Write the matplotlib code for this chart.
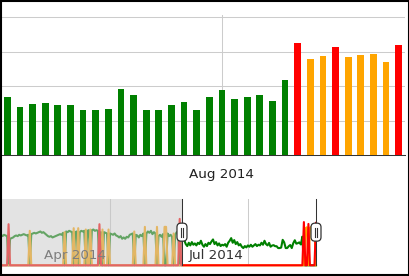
import matplotlib.pyplot as plt
import matplotlib.dates as mdates
from matplotlib.patches import Rectangle, FancyBboxPatch
from matplotlib.lines import Line2D
from matplotlib.transforms import IdentityTransform
import numpy as np
import pandas as pd

# daily values from 2014-01-19 to 2014-08-15
first_day = "2014-01-19"
values = [2.3, 2.2, 2.3, 2.25, 2.2, 3.1, 2.0, 2.05, 2.1, 2.2,
          2.25, 2.2, 2.3, 2.25, 2.3, 2.35, 2.3, 2.25, 2.3, 2.6,
          2.35, 2.4, 2.45, 2.4, 2.45, 2.5, 2.55, 2.45, 2.5, 2.4,
          2.3, 2.2, 2.15, 2.2, 2.1, 2.15, 2.2, 2.25, 2.3, 2.35,
          2.3, 2.45, 2.5, 2.55, 2.5, 2.6, 2.55, 2.5, 2.8, 2.5,
          2.55, 2.8, 2.5, 2.6, 2.55, 2.6, 2.7, 2.6, 2.65, 2.7,
          2.65, 2.7, 2.6, 2.65, 2.6, 3.1, 2.5, 2.7, 2.5, 2.45,
          2.4, 2.7, 2.4, 2.35, 2.3, 2.4, 2.25, 2.2, 2.1, 2.2,
          2.0, 2.1, 2.0, 2.15, 2.1, 2.3, 2.35, 2.4, 2.55, 2.3,
          2.25, 2.1, 2.3, 2.2, 2.4, 2.9, 2.4, 2.55, 2.45, 2.6,
          2.35, 2.5, 2.4, 2.9, 2.2, 2.3, 2.15, 2.35, 2.9, 2.9,
          2.4, 2.2, 2.3, 2.15, 2.4, 2.3, 2.5, 2.4, 3.5, 2.2,
          1.9, 1.9, 1.6, 1.45, 1.7, 1.5, 1.75, 1.55, 1.65, 1.5,
          1.7, 1.6, 1.85, 1.55, 1.4, 1.6, 1.45, 1.7, 1.6, 1.8,
          1.95, 1.6, 1.75, 1.5, 1.65, 1.45, 1.55, 1.5, 1.6, 1.4,
          1.7, 1.85, 2.05, 1.7, 1.9, 1.6, 1.75, 1.5, 1.6, 1.4,
          1.3, 1.45, 1.35, 1.5, 1.4, 1.55, 1.4, 1.5, 1.6, 1.45,
          1.55, 1.5, 1.7, 1.55, 1.85, 1.6, 1.5,
          # 2014-07-15 .. 2014-08-15 (bar chart)
          1.69, 1.40, 1.49, 1.52, 1.44, 1.44, 1.30, 1.30, 1.34, 1.92,
          1.73, 1.30, 1.30, 1.44, 1.53, 1.30, 1.67, 1.89, 1.63, 1.67,
          1.73, 1.57, 2.16, 3.26, 2.77, 2.87, 3.12, 2.83, 2.90, 2.93,
          2.71, 3.20]
orange_idx = [19, 42, 48, 51, 56, 59, 67, 71, 88, 95, 103, 108, 109, 114,
              201, 202, 204, 205, 206, 207]
red_idx = [5, 65, 118, 200, 203, 208]
n_zoom = 32
range_start = "2014-05-18 12:00"
range_end = "2014-08-15"
zoom_ticks = ["2014-08-01"]
filter_ticks = ["2014-04-01", "2014-07-01"]
col_ok, col_warn, col_crit = "#008000", "#ffa500", "#ff0000"

values = np.array(values)
days = pd.date_range(first_day, periods=len(values), freq="D")
xs = mdates.date2num(days)
status = np.full(len(values), "g")
status[orange_idx] = "o"
status[red_idx] = "r"
colors = {"g": col_ok, "o": col_warn, "r": col_crit}

W, H = 410, 276
fig = plt.figure(figsize=(W / 100, H / 100), dpi=100)

# main bar chart
ax = fig.add_axes([1 / W, 1 - 155 / H, 404 / W, 139.7 / H])
ax.bar(xs[-n_zoom:], values[-n_zoom:], width=0.53,
       color=[colors[s] for s in status[-n_zoom:]], zorder=3)
ax.set_xlim(xs[-n_zoom] - 0.5, xs[-1] + 0.5)
ax.set_ylim(0, 4.05)
ax.set_yticks([1, 2, 3, 4])
ax.set_yticklabels([])
ticks = pd.to_datetime(zoom_ticks)
ax.set_xticks(mdates.date2num(ticks))
ax.set_xticklabels([t.strftime("%b %Y") for t in ticks], fontsize=9.7, color="#222222")
ax.tick_params(length=0, pad=9.4)
ax.grid(color="#cccccc", lw=0.75)
ax.set_axisbelow(True)
for s in ["top", "right", "left"]:
    ax.spines[s].set_visible(False)
ax.spines["bottom"].set_color("#333333")
ax.spines["bottom"].set_linewidth(0.75)

# range filter
ax2 = fig.add_axes([1 / W, 1 - 265.3 / H, 315 / W, 66.3 / H])
for key in "gor":
    ax2.plot(xs, np.where(status == key, values, 0), color=colors[key],
             lw=1.5, clip_on=False, zorder=2)
ax2.set_xlim(xs[0], xs[-1])
ax2.set_ylim(0, 5)
ax2.set_axis_off()
for t in pd.to_datetime(filter_ticks):
    ax2.axvline(mdates.date2num(t), color="#cccccc", lw=0.75, zorder=1)
    ax2.annotate(t.strftime("%b %Y"), xy=(mdates.date2num(t), 0),
                 xycoords=ax2.get_xaxis_transform(), xytext=(-4.5, 6.3),
                 textcoords="offset pixels", ha="right", va="baseline",
                 fontsize=9.7, color="#333333", zorder=3)
x_start = mdates.date2num(pd.Timestamp(range_start))
x_end = mdates.date2num(pd.Timestamp(range_end))
ax2.axvspan(xs[0], x_start, ymin=-0.03, ymax=1, fc="#c8c8c8", alpha=0.5,
            lw=0, zorder=4, clip_on=False)

# handles
yc = ax2.transAxes.transform((0, 0.5))[1]
for xh in [x_start, x_end]:
    ax2.axvline(xh, color="#333333", lw=0.75, zorder=5, clip_on=False)
    xp = ax2.transData.transform((xh, 0))[0]
    fig.add_artist(FancyBboxPatch((xp - 5, yc - 9), 10, 18,
                                  boxstyle="round,pad=0,rounding_size=4",
                                  transform=IdentityTransform(), fc="white",
                                  ec="#333333", lw=0.9, zorder=6))
    for dx in [-1.3, 1.3]:
        fig.add_artist(Line2D([xp + dx, xp + dx], [yc - 4.5, yc + 4.5],
                              transform=IdentityTransform(), color="#333333",
                              lw=0.8, zorder=7))

fig.add_artist(Rectangle((1 / W, 1 / H), 408 / W, 274 / H, transform=fig.transFigure,
                         fill=False, ec="black", lw=1.5))

fig.savefig("out.png", dpi=100)
